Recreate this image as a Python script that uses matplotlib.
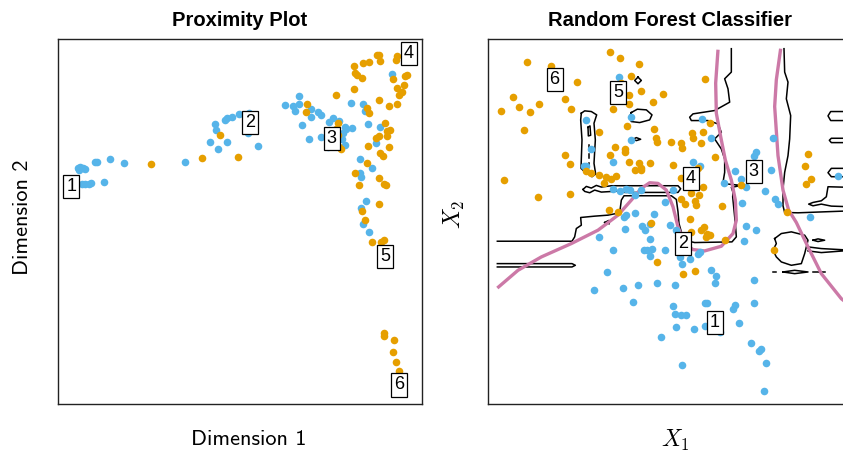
import numpy as np
import matplotlib
matplotlib.use('Agg')
import matplotlib.pyplot as plt

plt.rcParams['mathtext.fontset'] = 'cm'

BLUE = '#56B4E9'
ORANGE = '#E69F00'
PINK = '#CC79A7'

# ---------- PROXIMITY PLOT DATA (arbitrary MDS units, y grows downward) ----------
prox_blue = [
    (68, 415), (75, 412), (82, 413), (72, 420), (88, 418), (118, 397), (124, 395),
    (163, 388), (207, 400), (90, 462), (100, 461), (108, 460), (80, 463), (145, 456),
    (390, 397), (463, 337), (488, 357), (514, 337), (480, 282), (483, 300), (508, 270),
    (515, 265), (530, 260), (550, 252), (580, 248), (578, 310), (607, 347), (690, 224),
    (713, 228), (730, 198), (718, 242), (732, 222), (767, 236), (767, 260), (788, 245),
    (798, 256), (740, 284), (762, 327), (797, 322), (820, 277), (832, 265), (852, 272),
    (868, 290), (872, 297), (890, 293), (862, 310), (860, 328), (870, 346), (818, 350),
    (886, 220), (922, 223), (937, 282), (930, 242), (1010, 132), (975, 292), (962, 340),
    (914, 387), (950, 414), (915, 430), (916, 442), (932, 512), (918, 534), (922, 582),
    (940, 606),
]
prox_orange = [
    (287, 403), (440, 383), (548, 381), (493, 314), (756, 221), (752, 246), (842, 197),
    (848, 278), (842, 296), (848, 315), (858, 356), (850, 350), (896, 108), (900, 130),
    (905, 135), (920, 145), (922, 100), (942, 96), (965, 75), (972, 75), (975, 95),
    (1025, 78), (1022, 92), (1012, 147), (1050, 140), (1055, 137), (1045, 165),
    (1025, 175), (1040, 188), (1030, 195), (1025, 222), (1002, 227), (970, 210),
    (896, 178), (935, 235), (942, 248), (990, 279), (995, 302), (1003, 300), (970, 318),
    (962, 325), (995, 318), (937, 347), (1000, 351), (975, 370), (982, 377), (934, 400),
    (898, 428), (912, 464), (970, 444), (985, 463), (992, 465), (970, 522), (920, 542),
    (928, 570), (950, 636), (978, 634), (987, 630), (985, 908), (987, 918), (1017, 928),
    (1012, 965), (1022, 995), (1032, 1020),
]
prox_labels = ['1', '2', '3', '4', '5', '6']
prox_label_pos = [(48, 470), (583, 278), (829, 325), (1060, 72), (990, 680), (1032, 1063)]

# ---------- RANDOM FOREST DATA (X1, X2 in same pixel-like units) ----------
rf_blue = [
    (402, 143), (305, 270), (320, 358), (297, 408), (385, 397), (440, 262), (440, 330),
    (625, 395), (645, 408), (652, 268), (680, 325), (718, 460), (752, 423), (770, 448),
    (773, 518), (785, 472), (808, 378), (815, 367), (858, 420), (865, 323), (840, 482),
    (870, 508), (880, 523), (975, 562), (1060, 438), (386, 478), (405, 482), (425, 478),
    (435, 480), (450, 496), (470, 480), (540, 515), (565, 480), (423, 555), (418, 560),
    (450, 550), (508, 553), (473, 588), (480, 600), (497, 580), (555, 583), (575, 598),
    (420, 595), (495, 625), (343, 620), (385, 660), (478, 660), (488, 658), (502, 657),
    (497, 678), (540, 658), (587, 680), (592, 700), (615, 686), (640, 670), (645, 664),
    (777, 633), (785, 588), (815, 598), (680, 720), (695, 738), (692, 758), (808, 750),
    (366, 726), (328, 778), (415, 773), (460, 763), (518, 758), (570, 765), (445, 815),
    (565, 826), (570, 850), (590, 853), (605, 855), (660, 818), (668, 818), (745, 835),
    (752, 823), (660, 888), (575, 890), (628, 895), (705, 905), (762, 877), (530, 920),
    (798, 937), (822, 962), (828, 955), (845, 997), (593, 1004), (838, 1080), (807, 817),
    (305, 408),
]
rf_orange = [
    (375, 68), (405, 85), (462, 103), (127, 97), (200, 108), (440, 138), (277, 158),
    (660, 147), (84, 203), (103, 231), (136, 245), (162, 223), (50, 243), (240, 209),
    (260, 236), (118, 300), (408, 160), (432, 197), (470, 185), (505, 217), (535, 193),
    (433, 222), (385, 238), (428, 287), (343, 305), (508, 296), (513, 323), (518, 336),
    (558, 336), (590, 340), (592, 355), (622, 308), (625, 323), (655, 306), (650, 340),
    (675, 278), (390, 352), (420, 358), (422, 366), (375, 375), (240, 375), (255, 402),
    (303, 424), (318, 430), (343, 436), (365, 440), (380, 446), (393, 437), (357, 460),
    (433, 395), (462, 400), (470, 413), (450, 420), (470, 420), (497, 400), (565, 404),
    (590, 445), (610, 438), (640, 415), (655, 470), (620, 488), (643, 495), (590, 507),
    (600, 523), (630, 512), (635, 525), (58, 450), (160, 502), (255, 493), (372, 541),
    (400, 546), (500, 578), (617, 566), (620, 606), (648, 600), (658, 590), (663, 620),
    (668, 612), (677, 613), (713, 527), (720, 628), (692, 380), (770, 466), (969, 372),
    (962, 408), (980, 446), (965, 463), (908, 546), (868, 658), (517, 696), (595, 732),
    (630, 723),
]
rf_labels = ['1', '2', '3', '4', '5', '6']
rf_label_pos = [(690, 875), (595, 641), (807, 425), (618, 445), (401, 187), (210, 148)]

# Bayes decision boundary (two branches)
bayes_left = [
    (38, 773), (100, 720), (170, 680), (260, 640), (340, 600), (400, 555), (440, 510),
    (470, 475), (495, 458), (520, 460), (545, 480), (565, 530), (580, 590), (600, 640),
    (625, 658), (660, 662), (710, 648), (745, 610), (755, 570), (752, 510), (740, 450),
    (722, 390), (708, 320), (695, 250), (693, 160), (700, 60),
]
bayes_right = [
    (888, 57), (875, 150), (870, 230), (880, 377), (895, 480), (912, 540), (935, 577),
    (970, 650), (1010, 730), (1070, 805), (1102, 830),
]

# random forest decision boundary pieces
rf_bound = [
    # main boundary, left edge to top edge
    [(38, 633), (262, 633), (270, 620), (275, 595), (290, 585), (288, 562), (330, 558),
     (370, 555), (405, 548), (410, 510), (418, 497), (560, 497), (575, 508), (580, 545),
     (583, 580), (592, 612), (612, 633), (630, 637), (742, 635), (755, 620), (752, 580),
     (748, 540), (744, 500), (745, 487), (740, 472), (770, 466), (730, 462), (715, 457),
     (720, 427), (720, 387), (710, 357), (690, 327), (710, 307), (700, 282), (670, 272),
     (620, 272), (615, 262), (625, 252), (690, 242), (735, 217), (730, 177), (720, 147),
     (740, 127), (740, 57)],
    # horizontal band near label 4
    [(295, 478), (305, 469), (320, 474), (335, 466), (350, 471), (380, 467), (580, 467),
     (588, 476), (580, 487), (420, 487), (400, 483), (350, 486), (330, 480), (315, 488),
     (300, 484), (295, 478)],
    # tall loop upper left
    [(290, 250), (300, 243), (320, 245), (336, 255), (328, 280), (332, 330), (328, 400),
     (333, 432), (322, 440), (300, 425), (289, 415), (292, 330), (288, 270), (290, 250)],
    [(310, 292), (316, 288), (318, 316), (311, 318), (310, 292)],
    [(314, 345), (314, 358)], [(314, 372), (314, 385)], [(314, 398), (314, 410)],
    # oval and small shapes
    [(440, 248), (458, 238), (485, 240), (502, 255), (495, 270), (465, 278), (440, 275),
     (434, 262), (440, 248)],
    [(460, 142), (470, 152), (460, 162), (450, 152), (460, 142)],
    [(445, 328), (455, 323), (468, 328), (455, 332), (445, 328)],
    [(38, 700), (262, 700), (272, 705), (262, 710), (38, 710)],
    [(360, 577), (372, 571), (374, 581), (360, 577)],
    # right hand vertical boundary
    [(898, 57), (900, 127), (910, 157), (905, 207), (918, 257), (915, 327), (910, 377),
     (900, 427), (895, 477), (895, 527), (900, 547), (940, 548), (1020, 545), (1102, 542)],
    [(1102, 472), (1030, 470), (1025, 500), (1010, 512), (985, 517), (972, 522),
     (985, 527), (1010, 522), (1040, 528), (1102, 530)],
    [(1102, 245), (1038, 245), (1030, 258), (1038, 272), (1102, 272)],
    [(1102, 325), (1040, 325), (1034, 331), (1040, 338), (1102, 338)],
    [(1102, 415), (1040, 415), (1030, 428), (1040, 440), (1102, 440)],
    # blob lower right
    [(870, 625), (890, 610), (920, 605), (960, 615), (970, 630), (960, 670), (950, 700),
     (920, 705), (890, 695), (875, 680), (865, 660), (875, 640), (870, 625)],
    [(970, 650), (1010, 655), (1102, 660), (1010, 667), (970, 662)],
    [(985, 630), (1000, 626), (1020, 630), (1000, 634), (985, 630)],
    [(895, 725), (930, 720), (970, 725), (930, 730), (895, 725)],
    [(985, 725), (1022, 725)], [(866, 725), (874, 725)],
]

fig = plt.figure(figsize=(8.43, 4.55), dpi=100)
ax1 = fig.add_axes([58 / 843, 1 - 404 / 455, 364 / 843, 365 / 455])
ax2 = fig.add_axes([488 / 843, 1 - 404 / 455, 364 / 843, 365 / 455])

# ---------- LEFT: proximity plot ----------
pb = np.array(prox_blue)
po = np.array(prox_orange)
ax1.scatter(pb[:, 0], pb[:, 1], s=30, color=BLUE, lw=0, zorder=2)
ax1.scatter(po[:, 0], po[:, 1], s=30, color=ORANGE, lw=0, zorder=2)
ax1.set_xlim(8, 1100)
ax1.set_ylim(1120, 28)
ax1.set_title('Proximity Plot', fontsize=14.5, fontweight='bold',
              family='Liberation Sans', pad=9)
ax1.set_xlabel('Dimension 1', fontsize=16, family='cmss10')
ax1.set_ylabel('Dimension 2', fontsize=16, family='cmss10')
ax1.xaxis.set_label_coords(0.525, -0.07)
ax1.yaxis.set_label_coords(-0.072, 0.512)

# ---------- RIGHT: random forest ----------
for seg in rf_bound:
    s = np.array(seg)
    ax2.plot(s[:, 0], s[:, 1], color='black', lw=1.1, zorder=2)
for br in (bayes_left, bayes_right):
    b = np.array(br)
    ax2.plot(b[:, 0], b[:, 1], color=PINK, lw=2.4, zorder=3, solid_capstyle='butt')
rb = np.array(rf_blue)
ro = np.array(rf_orange)
ax2.scatter(rb[:, 0], rb[:, 1], s=30, color=BLUE, lw=0, zorder=4)
ax2.scatter(ro[:, 0], ro[:, 1], s=30, color=ORANGE, lw=0, zorder=4)
ax2.set_xlim(10, 1102)
ax2.set_ylim(1120, 28)
ax2.set_title('Random Forest Classifier', fontsize=14.5, fontweight='bold',
              family='Liberation Sans', pad=9)
ax2.set_xlabel(r'$X_1$', fontsize=17)
ax2.set_ylabel(r'$X_2$', fontsize=17)
ax2.xaxis.set_label_coords(0.514, -0.066)
ax2.yaxis.set_label_coords(-0.057, 0.52)

for ax, labs, pos in ((ax1, prox_labels, prox_label_pos), (ax2, rf_labels, rf_label_pos)):
    for lab, (x, y) in zip(labs, pos):
        ax.text(x, y, lab, ha='center', va='center', fontsize=13,
                family='Liberation Sans', zorder=5,
                bbox=dict(boxstyle='square,pad=0.17', fc='white', ec='black', lw=0.9))
    ax.set_xticks([])
    ax.set_yticks([])
    for sp in ax.spines.values():
        sp.set_linewidth(1.0)
        sp.set_color('#222222')

fig.savefig('out.png', dpi=100)
